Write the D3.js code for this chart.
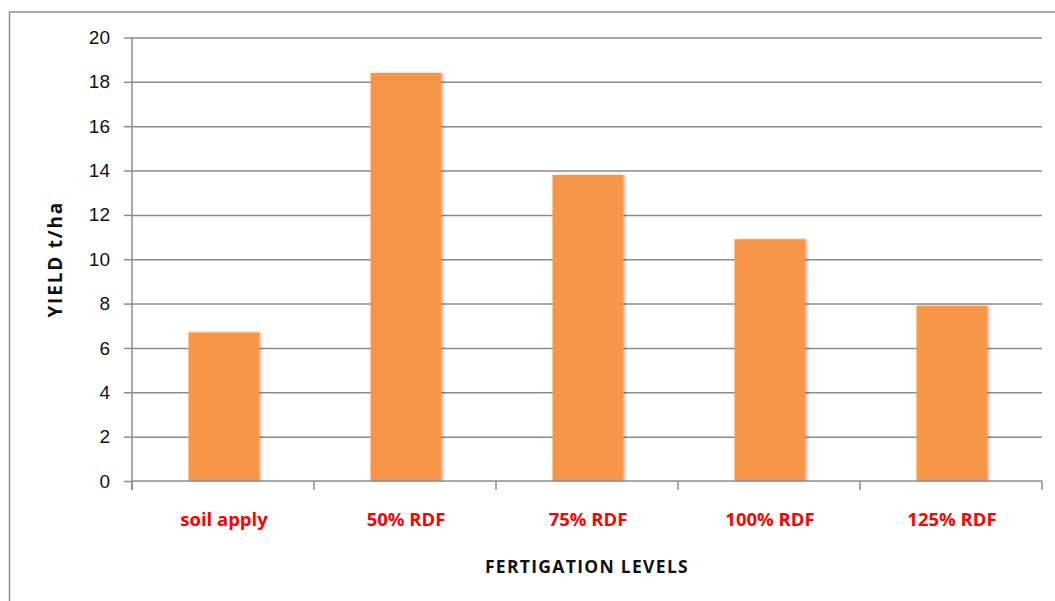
<!DOCTYPE html>
<html>
<head>
<meta charset="utf-8">
<script src="https://cdn.jsdelivr.net/npm/d3@7"></script>
<style>
  html, body { margin: 0; padding: 0; background: #fff; }
  svg { display: block; font-family: "Open Sans", Lato, sans-serif; }
  .grid line { stroke: #8c8c8c; stroke-width: 1.5; }
  .axis path, .axis line { stroke: #8c8c8c; stroke-width: 1.5; }
  .axis--y text { fill: #111; font-size: 19px; }
  .axis--x text { fill: #ff0000; font-size: 18.5px; font-weight: bold; }
  .axis-title { fill: #111; font-weight: bold; }
  .axis-title--x { font-size: 17.5px; letter-spacing: 1.3px; }
  .axis-title--y { font-size: 19px; letter-spacing: 1.8px; }
</style>
</head>
<body>
<div id="chart"></div>
<script>
const categories = ["soil apply", "50% RDF", "75% RDF", "100% RDF", "125% RDF"];
const yieldValues = [6.7, 18.4, 13.8, 10.9, 7.9];
const yTicks = [0, 2, 4, 6, 8, 10, 12, 14, 16, 18, 20];

(function () {
  const totalW = 1055, totalH = 601;
  const margin = { top: 37.5, right: 13, bottom: 120, left: 132 };
  const width = totalW - margin.left - margin.right;
  const height = totalH - margin.top - margin.bottom;

  const svg = d3.select("#chart").append("svg")
    .attr("width", totalW)
    .attr("height", totalH);

  // outer chart frame (cropped by the picture edges)
  svg.append("rect")
    .attr("x", 9.5).attr("y", 12)
    .attr("width", totalW + 20).attr("height", totalH + 20)
    .attr("fill", "none")
    .attr("stroke", "#8c8c8c")
    .attr("stroke-width", 1.5);

  const g = svg.append("g")
    .attr("transform", `translate(${margin.left},${margin.top})`);

  const x = d3.scaleBand().domain(categories).range([0, width]).padding(0);
  const y = d3.scaleLinear().domain([0, 20]).range([height, 0]);

  // gridlines
  g.append("g")
    .attr("class", "grid")
    .call(d3.axisLeft(y).tickValues(yTicks.slice(1)).tickSize(-width).tickFormat(""))
    .call(s => s.select(".domain").remove());

  // y axis
  g.append("g")
    .attr("class", "axis axis--y")
    .call(d3.axisLeft(y).tickValues(yTicks).tickSize(8).tickPadding(14).tickSizeOuter(0))
    .call(s => s.select(".domain").attr("d", `M0,0V${height + 9}`));

  // shadow filter for bars
  const defs = svg.append("defs");
  const f = defs.append("filter").attr("id", "shadow")
    .attr("x", "-10%").attr("y", "-5%").attr("width", "130%").attr("height", "110%");
  f.append("feDropShadow")
    .attr("dx", 2).attr("dy", 0).attr("stdDeviation", 1.5)
    .attr("flood-color", "#000").attr("flood-opacity", 0.25);

  // bars
  const barW = x.bandwidth() * 0.39;
  g.selectAll(".bar")
    .data(categories.map((c, i) => ({ cat: c, value: yieldValues[i] })))
    .join("rect")
    .attr("class", "bar")
    .attr("x", d => x(d.cat) + x.bandwidth() / 2 - barW / 2 + 1)
    .attr("width", barW)
    .attr("y", d => y(d.value))
    .attr("height", d => height - y(d.value))
    .attr("fill", "#f79646")
    .attr("filter", "url(#shadow)");

  // x axis with ticks between categories
  const xAxis = g.append("g")
    .attr("class", "axis axis--x")
    .attr("transform", `translate(0,${height})`);
  xAxis.append("path")
    .attr("class", "domain")
    .attr("d", `M0,0H${width}`)
    .attr("fill", "none");
  xAxis.selectAll(".sep")
    .data(d3.range(categories.length + 1))
    .join("line")
    .attr("class", "sep")
    .attr("x1", i => i * x.step())
    .attr("x2", i => i * x.step())
    .attr("y1", 0).attr("y2", 9);
  xAxis.selectAll(".lbl")
    .data(categories)
    .join("text")
    .attr("class", "lbl")
    .attr("x", d => x(d) + x.bandwidth() / 2 + 1)
    .attr("y", 45)
    .attr("text-anchor", "middle")
    .text(d => d);

  // axis titles
  g.append("text")
    .attr("class", "axis-title axis-title--x")
    .attr("x", width / 2)
    .attr("y", height + 92)
    .attr("text-anchor", "middle")
    .text("FERTIGATION LEVELS");

  g.append("text")
    .attr("class", "axis-title axis-title--y")
    .attr("transform", "rotate(-90)")
    .attr("x", -height / 2)
    .attr("y", -70)
    .attr("text-anchor", "middle")
    .text("YIELD t/ha");
})();
</script>
</body>
</html>
